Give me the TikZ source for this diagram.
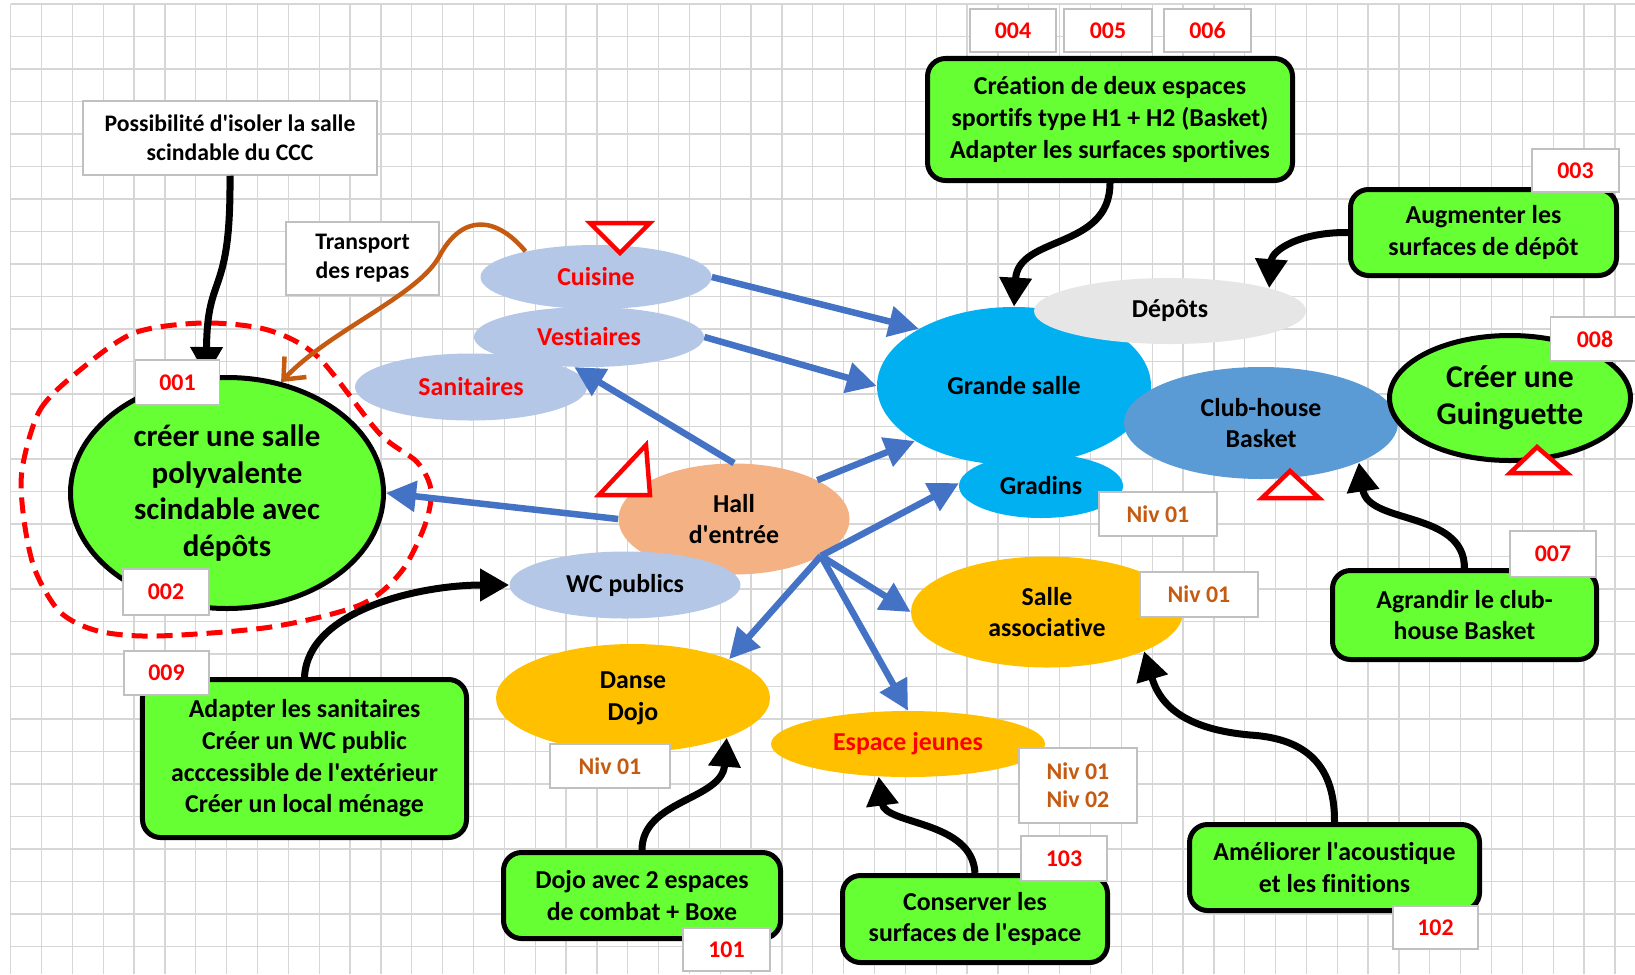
\documentclass[tikz,border=0pt]{standalone}
\usepackage{fontspec}
\newfontfamily\diagfont[Ligatures=NoCommon]{Carlito}
\usetikzlibrary{arrows.meta,shapes.geometric}

\definecolor{vert}{HTML}{66FF33}
\definecolor{ciel}{HTML}{00B0F0}
\definecolor{bleuclub}{HTML}{5B9BD5}
\definecolor{bleupale}{HTML}{B4C7E7}
\definecolor{peche}{HTML}{F4B183}
\definecolor{ambre}{HTML}{FFC000}
\definecolor{fleche}{HTML}{4472C4}
\definecolor{brun}{HTML}{C55A11}
\definecolor{grisdepot}{HTML}{E7E6E6}
\definecolor{quadrille}{HTML}{D6D6D6}
\definecolor{bordlabel}{HTML}{C0C0C0}

\begin{document}
\begin{tikzpicture}
	[x=0.2mm,y=-0.2mm,
	every node/.style={font=\diagfont\bfseries\fontsize{14.7}{18}\selectfont, align=center, inner sep=0pt},
	zone/.style={ellipse, inner sep=0pt},
	grosvert/.style={zone, draw=black, line width=1mm, fill=vert, font=\diagfont\bfseries\fontsize{17.6}{20.8}\selectfont},
	action/.style={draw=black, line width=1mm, fill=vert, rounded corners=3.6mm},
	etiq/.style={draw=bordlabel, line width=0.3mm, fill=white, text=red, minimum width=17.2mm, minimum height=8.8mm, font=\diagfont\bfseries\fontsize{13.6}{16}\selectfont},
	niv/.style={etiq, text=brun, minimum width=23.6mm},
	flux/.style={draw=fleche, line width=1.3mm, -{Triangle[width=6mm,length=6mm]}},
	lien/.style={draw=black, line width=1.4mm, -{Triangle[width=6.2mm,length=5.8mm]}},
	transport/.style={draw=brun, line width=0.9mm, -{Straight Barb[width=6mm,length=3.5mm]}},
	alerte/.style={draw=red, line width=0.9mm, fill=white, line join=miter},
	quad/.style={draw=quadrille, line width=0.26mm}]
	\useasboundingbox (0,0) rectangle (1635,974);
	\fill[white] (0,0) rectangle (1635,974);
	\foreach \i in {0,...,52}
	\draw[quad] ({10.7+30.85*\i},4) -- ({10.7+30.85*\i},974);
	\foreach \j in {0,...,29}
	\draw[quad] (10.7,{4+32.5*\j}) -- (1635,{4+32.5*\j});
	
	\draw[red, line width=1mm, dash pattern=on 3.2mm off 1.8mm] plot[smooth cycle] coordinates {(22,470) (40,410) (80,370) (134,333) (203,323) (268,330) (318,357) (379,433) (417,462) (431,490) (425,525) (401,572) (360,605) (271,627) (157,636) (98,631) (60,612) (35,570) (24,520)};
	
	\node[zone, fill=bleupale, minimum width=46.4mm, minimum height=13.4mm, text=red] (sanit) at (471,387) {Sanitaires};
	\node[zone, fill=bleupale, minimum width=46mm, minimum height=12mm, text=red] (vest) at (589,337) {Vestiaires};
	\node[zone, fill=bleupale, minimum width=46.2mm, minimum height=12.8mm, text=red] (cuisine) at (596,277) {Cuisine};
	\node[zone, fill=peche, minimum width=46.2mm, minimum height=22.2mm] (hall) at (734,519) {Hall\\d'entrée};
	\node[zone, fill=bleupale, minimum width=46.2mm, minimum height=13.4mm] (wc) at (625,585) {WC publics};
	\node[zone, fill=ciel, minimum width=54.8mm, minimum height=31.6mm] (gsalle) at (1014,386) {Grande salle};
	\node[zone, fill=ciel, minimum width=32.8mm, minimum height=12.8mm] (gradins) at (1041,486) {Gradins};
	\node[zone, fill=grisdepot, minimum width=54.4mm, minimum height=13.2mm] (depots) at (1170,311) {Dépôts};
	\node[zone, fill=bleuclub, minimum width=54.8mm, minimum height=22.4mm] (club) at (1261,423) {Club-house\\Basket};
	\node[zone, fill=ambre, minimum width=54.4mm, minimum height=22.2mm] (sasso) at (1047,612) {Salle\\associative};
	\node[zone, fill=ambre, minimum width=54.8mm, minimum height=21.6mm] (dojo) at (633,698) {Danse\\Dojo};
	\node[zone, fill=ambre, minimum width=54.8mm, minimum height=13.2mm, text=red] (jeunes) at (908,744) {Espace jeunes};
	\node[grosvert, minimum width=62.6mm, minimum height=46.2mm] (salle) at (227,493) {créer une salle\\polyvalente\\scindable avec\\dépôts};
	\node[grosvert, minimum width=48.2mm, minimum height=25mm, font=\diagfont\bfseries\fontsize{18}{21.3}\selectfont] (guing) at (1510,398) {Créer une\\Guinguette};
	
	\node[action, minimum width=73mm, minimum height=24.4mm] (creation) at (1110,119.5) {Création de deux espaces\\sportifs type H1 + H2 (Basket)\\Adapter les surfaces sportives};
	\node[action, minimum width=53.2mm, minimum height=17.2mm] (augm) at (1483.5,232.5) {Augmenter les\\surfaces de dépôt};
	\node[action, minimum width=52.8mm, minimum height=17.8mm] (agrandir) at (1464.5,615) {Agrandir le club-\\house Basket};
	\node[action, minimum width=58mm, minimum height=17.2mm] (amelio) at (1334.5,867.5) {Améliorer l'acoustique\\et les finitions};
	\node[action, minimum width=53mm, minimum height=17.4mm] (conserv) at (975,919) {Conserver les\\surfaces de l'espace};
	\node[action, minimum width=55.4mm, minimum height=17.2mm] (dojoav) at (642,895.5) {Dojo avec 2 espaces\\de combat + Boxe};
	\node[action, minimum width=64.8mm, minimum height=31.6mm] (adapter) at (304.5,758.5) {Adapter les sanitaires\\Créer un WC public\\acccessible de l'extérieur\\Créer un local ménage};
	
	\node[etiq, text=black, minimum width=58.8mm, minimum height=14.8mm, font=\diagfont\bfseries\fontsize{13.5}{16.4}\selectfont] (poss) at (230,138) {Possibilité d'isoler la salle\\scindable du CCC};
	\node[etiq, text=black, minimum width=30.6mm, minimum height=14.6mm, font=\diagfont\bfseries\fontsize{13.5}{16.4}\selectfont] (transp) at (362.5,258.5) {Transport\\des repas};
	
	\coordinate (hub) at (hall.337);
	\foreach \from/\to in {cuisine.east/gsalle.149,vest.east/gsalle.180,hall.north/vest.244,hall.west/salle.east,hall.25/gsalle.209,hub/gradins.178,hub/dojo.22,hub/sasso.west,hub/jeunes.north}
	\draw[flux] (\from) -- (\to);
	
	\draw[lien] (poss.south) .. controls (231,300) and (207,270) .. (salle.100);
	\draw[lien] (creation.south) .. controls (1110,250) and (1018,235) .. (gsalle.north);
	\draw[lien] (augm.west) .. controls (1300,232) and (1272,250) .. (depots.13);
	\draw[lien] (agrandir.north) .. controls (1464,510) and (1368,525) .. (club.338);
	\draw[lien] (amelio.north) .. controls (1335,760) and (1300,738) .. (1250,735) .. controls (1195,730) and (1162,712) .. (sasso.338);
	\draw[lien] (conserv.north) .. controls (972,820) and (885,825) .. (jeunes.228);
	\draw[lien] (dojoav.north) .. controls (642,800) and (722,800) .. (dojo.337);
	\draw[lien] (adapter.north) .. controls (308,610) and (420,585) .. (wc.west);
	\draw[transport] (cuisine.160) .. controls (495,215) and (462,215) .. (440,255) .. controls (420,295) and (330,330) .. (salle.64);
	
	\draw[alerte] (590,223) -- (650,223) -- (620,253) -- cycle;
	\draw[alerte] (599,495) -- (646,445) -- (650,495) -- cycle;
	\draw[alerte] (1262,498) -- (1290,471) -- (1319,498) -- cycle;
	\draw[alerte] (1510,473) -- (1537,447) -- (1567,473) -- cycle;
	
	\node[etiq, minimum width=16.8mm, minimum height=9mm] (n001) at (177.5,382.5) {001};
	\node[etiq, minimum height=9.2mm] (n002) at (166,592) {002};
	\node[etiq, minimum width=17mm] (n009) at (166.5,673) {009};
	\node[etiq, minimum height=8.6mm] (n004) at (1013,30.5) {004};
	\node[etiq, minimum width=17.6mm, minimum height=8.6mm] (n005) at (1108,30.5) {005};
	\node[etiq, minimum width=17.4mm, minimum height=8.6mm] (n006) at (1207.5,30.5) {006};
	\node[etiq, minimum width=17.4mm, minimum height=8.6mm] (n003) at (1575.5,170.5) {003};
	\node[etiq, minimum width=17.8mm] (n008) at (1595,339) {008};
	\node[etiq, minimum height=9.2mm] (n007) at (1553,554) {007};
	\node[etiq, minimum height=9mm] (n103) at (1064,858.5) {103};
	\node[etiq, minimum width=17mm, minimum height=8.6mm] (n102) at (1435.5,927.5) {102};
	\node[etiq, minimum width=17.4mm, minimum height=8.6mm] (n101) at (726.5,949.5) {101};
	\node[niv] (nivgrad) at (1158,514) {Niv 01};
	\node[niv, minimum height=9mm] (nivsasso) at (1199,594.5) {Niv 01};
	\node[niv, minimum height=15mm, font=\diagfont\bfseries\fontsize{13.6}{15.9}\selectfont] (nivjeunes) at (1078,785.5) {Niv 01\\Niv 02};
	\node[niv, minimum width=24mm] (nivdojo) at (610,766) {Niv 01};
\end{tikzpicture}
\end{document}
